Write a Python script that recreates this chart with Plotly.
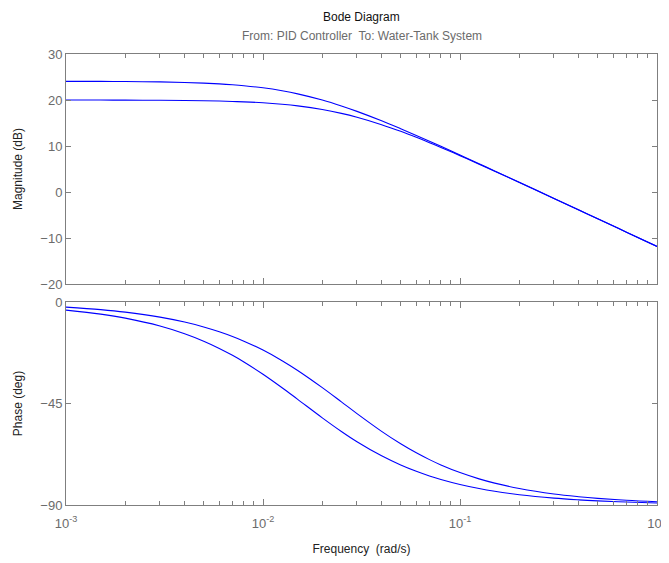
import plotly.graph_objects as go
from plotly.subplots import make_subplots

# frequencies (rad/s) read along the x axis
freq = [0.001, 0.0015, 0.002, 0.003, 0.004, 0.005, 0.006, 0.007, 0.008, 0.01,
        0.0125, 0.015, 0.02, 0.025, 0.03, 0.04, 0.05, 0.06, 0.07, 0.08,
        0.1, 0.125, 0.15, 0.2, 0.3, 0.4, 0.5, 0.7, 1.0]

# system 1 (higher DC gain)
mag_1 = [24.06, 24.04, 24.01, 23.93, 23.82, 23.67, 23.51, 23.32, 23.11, 22.65,
         22.01, 21.34, 19.99, 18.71, 17.53, 15.48, 13.76, 12.30, 11.04, 9.93,
         8.05, 6.15, 4.59, 2.11, -1.39, -3.89, -5.82, -8.74, -11.84]
phase_1 = [-3.58, -5.36, -7.13, -10.62, -14.04, -17.35, -20.56, -23.63, -26.57, -32.01,
           -38.0, -43.15, -51.34, -57.38, -61.93, -68.2, -72.26, -75.07, -77.13, -78.69,
           -80.91, -82.71, -83.91, -85.43, -86.95, -87.71, -88.17, -88.69, -89.08]

# system 2 (lower DC gain)
mag_2 = [19.99, 19.99, 19.97, 19.94, 19.90, 19.84, 19.77, 19.69, 19.60, 19.39,
         19.07, 18.72, 17.94, 17.10, 16.25, 14.64, 13.19, 11.89, 10.73, 9.69,
         7.90, 6.06, 4.53, 2.09, -1.40, -3.88, -5.81, -8.73, -11.82]
phase_2 = [-2.23, -3.35, -4.46, -6.67, -8.87, -11.03, -13.17, -15.27, -17.33, -21.31,
           -25.99, -30.33, -37.95, -44.27, -49.48, -57.34, -62.85, -66.86, -69.88, -72.23,
           -75.62, -78.41, -80.30, -82.69, -85.12, -86.33, -87.06, -87.90, -88.53]

decades = [0.001, 0.01, 0.1, 1.0]
decade_text = ["10<sup>-3</sup>", "10<sup>-2</sup>", "10<sup>-1</sup>", "10<sup>0</sup>"]
mag_ticks = [-20, -10, 0, 10, 20, 30]
phase_ticks = [-90, -45, 0]

minor_vals = [m * d for d in [0.001, 0.01, 0.1] for m in range(2, 10)]

FAMILY = "Liberation Sans, Arial, sans-serif"
AXIS = "#7f7f7f"
TICKFONT = dict(family=FAMILY, size=13, color="#6b6b6b")
LABELFONT = dict(family=FAMILY, size=12, color="#222222")
BLUE = "#0000ff"

fig = make_subplots(rows=2, cols=1, shared_xaxes=False)

for mag in (mag_1, mag_2):
    fig.add_trace(go.Scatter(x=freq, y=mag, mode="lines", line=dict(color=BLUE, width=1.1, shape="spline"),
                             showlegend=False), row=1, col=1)
for ph in (phase_1, phase_2):
    fig.add_trace(go.Scatter(x=freq, y=ph, mode="lines", line=dict(color=BLUE, width=1.1, shape="spline"),
                             showlegend=False), row=2, col=1)

xcommon = dict(
    type="log", range=[-3, 0], tickmode="array", tickvals=decades, ticktext=decade_text,
    ticks="inside", ticklen=6, tickcolor=AXIS, showline=True, linecolor=AXIS, linewidth=1,
    mirror="ticks", showgrid=False, zeroline=False, tickfont=TICKFONT, automargin=False,
    minor=dict(tickmode="array", tickvals=minor_vals, ticks="inside", ticklen=4, tickcolor=AXIS, showgrid=False),
)
ycommon = dict(
    ticks="inside", ticklen=5, tickcolor=AXIS, showline=True, linecolor=AXIS, linewidth=1,
    mirror="ticks", showgrid=False, zeroline=False, tickfont=TICKFONT, automargin=False,
)

# the page body adds an 8px offset, so the figure is sized to fit the window
fig.update_layout(
    xaxis=dict(xcommon, domain=[0, 1], showticklabels=False, anchor="y"),
    xaxis2=dict(xcommon, domain=[0, 1], anchor="y2", ticklabelstandoff=6,
                title=dict(text="Frequency  (rad/s)", font=LABELFONT, standoff=15)),
    yaxis=dict(ycommon, domain=[0.490, 1.0], range=[-20, 30], tickvals=mag_ticks,
               title=dict(text="Magnitude (dB)", font=LABELFONT, standoff=15)),
    yaxis2=dict(ycommon, domain=[0.0, 0.450], range=[-90, 0], tickvals=phase_ticks,
                title=dict(text="Phase (deg)", font=LABELFONT, standoff=15)),
    width=661, height=555,
    margin=dict(l=58, r=12, t=46, b=58, autoexpand=False),
    plot_bgcolor="white", paper_bgcolor="white",
    font=dict(family=FAMILY),
    annotations=[
        dict(text="Bode Diagram", x=0.5, y=1.101, xref="paper", yref="paper", yanchor="top",
             showarrow=False, font=dict(family=FAMILY, size=12, color="#111111")),
        dict(text="From: PID Controller  To: Water-Tank System", x=0.5, y=1.040, xref="paper", yref="paper",
             yanchor="middle", showarrow=False, font=dict(family=FAMILY, size=12, color="#6b6b6b")),
    ],
)

fig.write_html("out.html")
